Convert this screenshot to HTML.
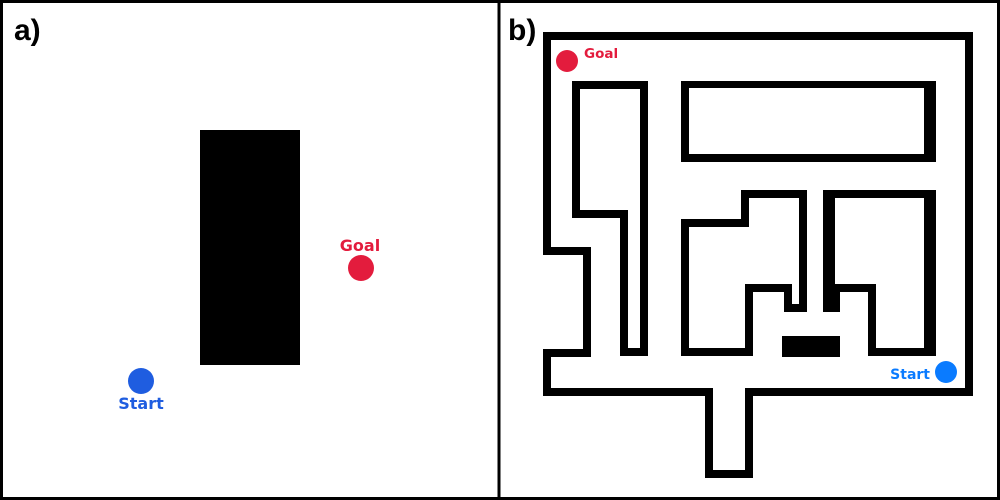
<!DOCTYPE html>
<html><head><meta charset="utf-8"><style>
html,body{margin:0;padding:0;background:#fff}
svg{display:block}
text{font-family:"DejaVu Sans","Liberation Sans",sans-serif;font-weight:bold}
text.pl{font-family:"Liberation Sans",sans-serif}
</style></head><body>
<svg width="1000" height="500" viewBox="0 0 1000 500">
<rect x="0" y="0" width="1000" height="500" fill="#fff"/>
<g>
  <text class="pl" x="14" y="40" font-size="30" fill="#000">a)</text>
  <rect x="200" y="130" width="100" height="235" fill="#000"/>
  <circle cx="361" cy="268" r="13" fill="#e31c3d"/>
  <text x="360" y="251" font-size="16" fill="#e31c3d" text-anchor="middle">Goal</text>
  <circle cx="141" cy="381" r="13" fill="#1f5de0"/>
  <text x="141" y="409" font-size="16" fill="#1f5de0" text-anchor="middle">Start</text>
</g>
<g>
  <text class="pl" x="508" y="40" font-size="30" fill="#000">b)</text>
  <g fill="none" stroke="#000" stroke-width="8" stroke-linejoin="miter" stroke-linecap="square">
    <path d="M547,36 L969,36 L969,392 L749,392 L749,474 L709,474 L709,392 L547,392 L547,353 L587,353 L587,251 L547,251 Z"/>
    <path d="M576,214 L576,85 L644,85 L644,352 L624,352 L624,214 Z"/>
    <path d="M749,352 L685,352 L685,223 L745,223 L745,194 L803,194 L803,308 L788,308 L788,288 L749,288 Z"/>
  </g>
  <g fill="#000">
    <rect x="681" y="81" width="255" height="81"/>
    <rect x="689" y="88" width="235" height="66" fill="#fff"/>
    <rect x="823" y="190" width="12" height="122"/>
    <rect x="823" y="284" width="17" height="28"/>
    <rect x="823" y="190" width="113" height="8"/>
    <rect x="924" y="190" width="12" height="166"/>
    <rect x="868" y="348" width="68" height="8"/>
    <rect x="868" y="284" width="8" height="72"/>
    <rect x="835" y="284" width="41" height="8"/>
    <rect x="782" y="336" width="58" height="21"/>
  </g>
  <circle cx="567" cy="61" r="11" fill="#e31c3d"/>
  <text x="584" y="58" font-size="13.5" fill="#e31c3d">Goal</text>
  <circle cx="946" cy="372" r="11" fill="#0a7bff"/>
  <text x="930" y="379" font-size="14" fill="#0a7bff" text-anchor="end">Start</text>
</g>
<rect x="1.5" y="1.5" width="997" height="497" fill="none" stroke="#000" stroke-width="3"/>
<line x1="499" y1="0" x2="499" y2="500" stroke="#000" stroke-width="3"/>
</svg>
</body></html>
